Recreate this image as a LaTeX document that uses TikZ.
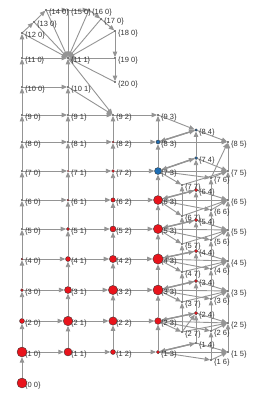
\documentclass[tikz,border=0pt]{standalone}
\usepackage{fontspec}
\setmainfont{Liberation Sans}
\usetikzlibrary{arrows.meta}
\pgfdeclarelayer{edgelayer}
\pgfdeclarelayer{labellayer}
\pgfsetlayers{edgelayer,labellayer,main}
\definecolor{vred}{RGB}{232,20,28}
\definecolor{vblue}{RGB}{30,110,180}
\colorlet{vdot}{black!80}
\colorlet{edgegray}{black!42}
\tikzset{
  vtx/.style={circle, inner sep=0pt, draw=black!80, line width=0.35pt},
  lab/.style={anchor=west, inner sep=0pt, text=black!80, font=\fontsize{7.5}{8}\selectfont},
  link/.style={draw=edgegray, line width=0.9pt, -{Triangle[length=5.5pt,width=4.5pt]}},
  twoway/.style={link, line width=1.3pt},
}
% vertex: row, column, position, diameter, fill
\newcommand{\putv}[5]{%
  \node[vtx, minimum size=#4pt, fill=#5] (v#1-#2) at (#3) {};
  \begin{pgfonlayer}{labellayer}
  \node[lab] (l#1-#2) at ([shift={(3pt,-2.5pt)}]v#1-#2.center) {\{#1 #2\}};
  \end{pgfonlayer}
}

\begin{document}
\begin{tikzpicture}[x=1pt,y=-1pt]
\useasboundingbox (0,0) rectangle (262,401);
% left grid:
\foreach \r/\y/\d/\f in {0/383/10/vred,1/352/10/vred,2/321/5/vred,3/290/3/vred,4/259/2/vred,
  5/229/1.4/vdot,6/200/1.4/vdot,7/171/1.4/vdot,8/142/1.4/vdot,9/115/1.4/vdot,
  10/87/1.4/vdot,11/58/1.4/vdot,12/33/1.4/vdot}
  \putv{\r}{0}{22,\y}{\d}{\f};
\foreach \r/\x/\y in {13/34/22,14/46/10,15/68/10,16/89/10,17/101/19,18/115/31,19/115/58,20/115/82}
  \putv{\r}{0}{\x,\y}{1.4}{vdot};
\foreach \r/\y/\d/\f in {1/352/8/vred,2/321/9.5/vred,3/290/7/vred,4/259/5/vred,5/229/3.3/vred,
  6/200/2/vred,7/171/1.5/vred,8/142/1.4/vdot,9/115/1.4/vdot,10/87/1.4/vdot,11/58/1.4/vdot}
  \putv{\r}{1}{68,\y}{\d}{\f};
\foreach \r/\y/\d/\f in {1/352/5/vred,2/321/8.3/vred,3/290/9.3/vred,4/259/7.3/vred,5/229/6/vred,
  6/200/4.3/vred,7/171/3/vred,8/142/2/vred,9/115/1.4/vdot}
  \putv{\r}{2}{113,\y}{\d}{\f};
\foreach \r/\y/\d/\f in {1/352/3.5/vred,2/321/6.7/vred,3/290/10/vred,4/259/10.3/vred,5/229/9.3/vred,
  6/200/9/vred,7/171/7/vblue,8/142/4/vblue,9/115/1.4/vdot}
  \putv{\r}{3}{158,\y}{\d}{\f};
% right block:
\foreach \r/\y/\d/\f in {1/343/1.4/vdot,2/313/3.5/vred,3/281/3.3/vred,4/251/3.5/vred,5/220/3.5/vred,
  6/190/3.5/vred,7/158/3/vblue,8/130/2.5/vblue}
  \putv{\r}{4}{196,\y}{\d}{\f};
\foreach \r/\y in {1/352,2/323,3/291,4/261,5/230,6/200,7/171,8/142}
  \putv{\r}{5}{228,\y}{1.4}{vdot};
\foreach \r/\y in {1/360,2/331,3/299,4/269,5/240,6/210,7/178}
  \putv{\r}{6}{211,\y}{1.4}{vdot};
\foreach \r/\y in {2/332,3/302,4/272,5/244,6/216,7/185}
  \putv{\r}{7}{182,\y}{1.4}{vdot};

\begin{pgfonlayer}{edgelayer}
% columns:
\foreach \a [count=\b from 1] in {0,...,19}
  \draw[link] (v\a-0) -- (v\b-0);
\foreach \c/\lo/\hi in {1/1/10,2/1/8,3/1/8,4/1/7,5/1/7,6/1/6,7/2/6}
  \foreach \a in {\lo,...,\hi} {
    \pgfmathtruncatemacro{\b}{\a+1}
    \draw[link] (v\a-\c) -- (v\b-\c);
  }
% rows:
\foreach \a in {1,...,11}
  \draw[link] (v\a-0) -- (v\a-1);
\foreach \a in {1,...,9} {
  \draw[link] (v\a-1) -- (v\a-2);
  \draw[link] (v\a-2) -- (v\a-3);
}
\draw[link] (v10-1) -- (v9-2);
\draw[link] (v11-1) -- (v9-2);
\foreach \k in {12,...,20}
  \draw[link] (v\k-0) -- (v11-1);
% right block:
\foreach \a in {1,...,8} {
  \draw[twoway] (v\a-3) -- (v\a-4);
  \draw[twoway] (v\a-4) -- (v\a-3);
  \draw[link] (v\a-3) -- (v\a-5);
  \draw[link] (v\a-4) -- (v\a-5);
}
\foreach \a in {1,...,7} {
  \draw[link] (v\a-3) -- (v\a-6);
  \draw[link] (v\a-6) -- (v\a-5);
}
\foreach \a in {2,...,7} {
  \draw[link] (v\a-3) -- (v\a-7);
  \draw[link] (v\a-7) -- (v\a-5);
}
\draw[link] (v9-3) -- (v8-4);
\draw[link] (v7-6) -- (v8-5);
\draw[link] (v2-7) -- (v2-4);
\end{pgfonlayer}
\end{tikzpicture}
\end{document}
